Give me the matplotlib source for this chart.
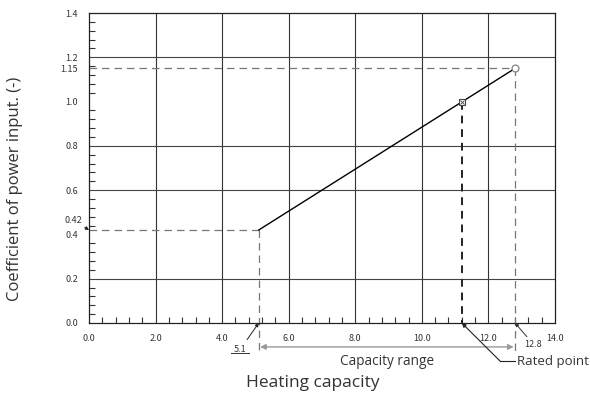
import matplotlib
matplotlib.use("Agg")
import matplotlib.pyplot as plt
import numpy as np

# Characteristic: coefficient of power input vs heating capacity
cap_min, cap_rated, cap_max = 5.1, 11.2, 12.8
coef_min, coef_rated, coef_max = 0.42, 1.0, 1.15

x_ticks = [0, 2, 4, 6, 8, 10, 12, 14]
x_tick_labels = ["0.0", "2.0", "4.0", "6.0", "8.0", "10.0", "12.0", "14.0"]
y_ticks = [0.0, 0.2, 0.4, 0.6, 0.8, 1.0, 1.15, 1.2, 1.4]
y_tick_labels = ["0.0", "0.2", "0.4", "0.6", "0.8", "1.0", "1.15", "1.2", "1.4"]
y_grid = [0.2, 0.6, 0.8, 1.2]
x_grid = [2, 4, 6, 8, 10, 12]

cjk = ["Noto Sans CJK JP", "DejaVu Sans"]
tick_font = dict(family=cjk, size=6.5, color="#333333")
label_font = ["Open Sans", "DejaVu Sans"]

fig = plt.figure(figsize=(5.9, 3.98), dpi=100)
ax = fig.add_axes([89 / 590, 1 - 323 / 398, (555 - 89) / 590, (323 - 13) / 398])
ax.set_xlim(0, 14)
ax.set_ylim(0, 1.4)

for s in ax.spines.values():
    s.set_linewidth(0.9)
    s.set_color("#222222")

for gx in x_grid:
    ax.axvline(gx, color="#333333", lw=0.8, zorder=1)
for gy in y_grid:
    ax.axhline(gy, color="#444444", lw=0.8, zorder=1)

ax.set_xticks(x_ticks)
ax.set_xticklabels(x_tick_labels, fontdict=tick_font)
ax.set_yticks(y_ticks)
ax.set_yticklabels(y_tick_labels, fontdict=tick_font)
ax.tick_params(axis="both", which="major", length=0, pad=8)
ax.set_xticks(np.arange(0, 14.01, 0.4), minor=True)
ax.set_yticks(np.arange(0, 1.401, 0.04), minor=True)
ax.tick_params(axis="both", which="minor", direction="in", length=4, width=0.8, color="#333333")

# Guide lines from the end points to the axes
dash_gray = dict(color="#777777", lw=0.9, ls=(0, (6, 4)), zorder=2)
ax.plot([0, cap_min], [coef_min, coef_min], **dash_gray)
ax.plot([cap_min, cap_min], [coef_min, -0.14], clip_on=False, **dash_gray)
ax.plot([0, cap_max], [coef_max, coef_max], **dash_gray)
ax.plot([cap_max, cap_max], [coef_max, -0.145], clip_on=False, **dash_gray)
ax.plot([cap_rated, cap_rated], [coef_rated, 0], color="#222222", lw=1.4,
        ls=(0, (4, 3)), zorder=2)

# Characteristic line and markers
ax.plot([cap_min, cap_max], [coef_min, coef_max], color="black", lw=1.0, zorder=3)
ax.plot([cap_max], [coef_max], marker="o", ms=5, mfc="white", mec="#777777",
        mew=0.8, zorder=4)
ax.plot([cap_rated], [coef_rated], marker="s", ms=4.5, mfc="white", mec="#444444",
        mew=0.8, zorder=4)
ax.plot([cap_rated], [coef_rated], marker="x", ms=3.5, mec="#444444", mew=0.6, zorder=5)

# Value call-outs
ax.annotate("0.42", xy=(0, coef_min), xytext=(-0.2, 0.465), textcoords="data",
            ha="right", va="center", fontsize=6.5, color="#333333",
            family=cjk, annotation_clip=False,
            arrowprops=dict(arrowstyle="-|>", color="#222222", lw=0.7,
                            mutation_scale=5, shrinkA=0, shrinkB=0))
ax.annotate("5.1", xy=(cap_min, 0), xytext=(4.55, -0.118), textcoords="data",
            ha="center", va="center", fontsize=6.5, color="#333333",
            family=cjk, annotation_clip=False,
            arrowprops=dict(arrowstyle="-|>", color="#222222", lw=0.7,
                            mutation_scale=5, shrinkA=2, shrinkB=0))
ax.plot([4.28, 4.8], [-0.137, -0.137], color="#333333", lw=0.7, clip_on=False)
ax.annotate("12.8", xy=(cap_max, 0), xytext=(13.08, -0.095), textcoords="data",
            ha="left", va="center", fontsize=6.5, color="#333333",
            family=cjk, annotation_clip=False,
            arrowprops=dict(arrowstyle="-|>", color="#333333", lw=0.7,
                            mutation_scale=5, shrinkA=0, shrinkB=0))

# Capacity range dimension
ax.annotate("", xy=(cap_min, -0.108), xytext=(cap_max, -0.108), textcoords="data",
            annotation_clip=False,
            arrowprops=dict(arrowstyle="<|-|>", color="#999999", lw=1.0,
                            mutation_scale=8, shrinkA=1, shrinkB=1))
ax.text((cap_min + cap_max) / 2, -0.174, "Capacity range", ha="center", va="center",
        fontsize=9.8, family=label_font, color="#333333", clip_on=False)

# Rated point leader
ax.annotate("", xy=(cap_rated, 0), xytext=(12.35, -0.172), textcoords="data",
            annotation_clip=False,
            arrowprops=dict(arrowstyle="-|>", color="#222222", lw=0.8,
                            mutation_scale=6, shrinkA=0, shrinkB=0))
ax.plot([12.35, 12.8], [-0.172, -0.172], color="#222222", lw=0.8, clip_on=False)
ax.text(12.87, -0.174, "Rated point", ha="left", va="center", fontsize=9.5,
        family=label_font, color="#333333", clip_on=False)

fig.text(313 / 590, 1 - 383 / 398, "Heating capacity", ha="center", va="center",
         fontsize=12.5, family=label_font, color="#333333")
fig.text(15 / 590, 1 - 189 / 398, "Coefficient of power input. (-)", ha="center",
         va="center", rotation=90, fontsize=12, family=label_font, color="#333333")

fig.savefig("out.png", dpi=100)
